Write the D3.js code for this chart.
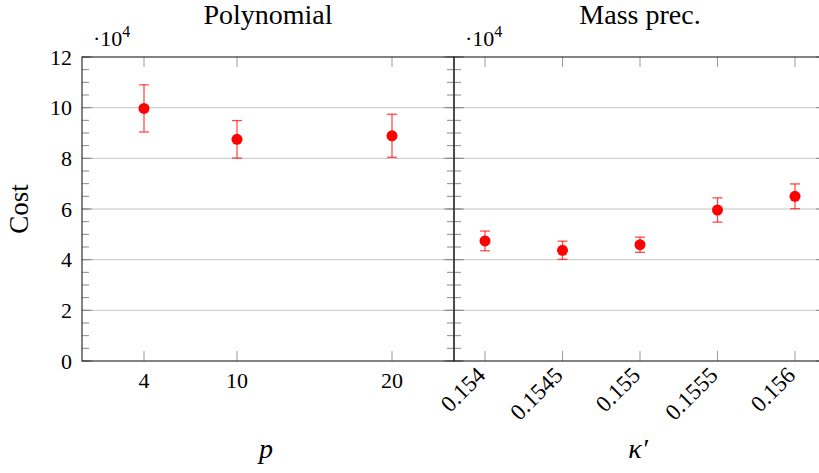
<!DOCTYPE html>
<html>
<head>
<meta charset="utf-8">
<script src="https://cdn.jsdelivr.net/npm/d3@7"></script>
<style>
  body { margin: 0; background: #fff; }
  svg { display: block; font-family: "Liberation Serif", "Times New Roman", serif; }
  text { font-family: "Liberation Serif", "Times New Roman", serif; }
</style>
</head>
<body>
<svg id="chart"></svg>
<script>
var width = 819;
var height = 473;

// data (cost values, axis shown in units of 10^4)
var polyP = [4, 10, 20];
var polyCost = [99700, 87500, 88900];
var polyErr = [9300, 7400, 8500];

var kappa = [0.154, 0.1545, 0.155, 0.1555, 0.156];
var kappaCost = [47400, 43700, 45900, 59600, 65000];
var kappaErr = [3900, 3600, 3000, 4800, 4900];

var yTicks = [0, 20000, 40000, 60000, 80000, 100000, 120000];
var kappaTickLabels = ['0.154', '0.1545', '0.155', '0.1555', '0.156'];

var plotTop = 57, plotBottom = 361;
var panelW = 372;
var leftX = 82;

var svg = d3.select('#chart')
    .attr('width', width)
    .attr('height', height);

var y = d3.scaleLinear()
    .domain([0, 120000])
    .range([plotBottom, plotTop]);

var minorTicks = d3.range(0, 120001, 5000);

var xPoly = d3.scaleLinear()
    .domain([0, 24])
    .range([leftX, leftX + panelW]);

var xKappa = d3.scaleLinear()
    .domain([0.1538, 0.1562])
    .range([leftX + panelW, leftX + 2 * panelW]);

function drawPanel(x, xs, ys, errs, tickVals) {
    var x0 = x.range()[0], x1 = x.range()[1];
    var g = svg.append('g');

    // horizontal grid
    g.selectAll('line.grid')
        .data(yTicks.slice(1, -1))
        .enter().append('line')
        .attr('x1', x0).attr('x2', x1)
        .attr('y1', function (d) { return y(d); })
        .attr('y2', function (d) { return y(d); })
        .attr('stroke', '#c4c4c4')
        .attr('stroke-width', 1);

    // minor y ticks, both sides
    [[x0, 7], [x1, -7]].forEach(function (s) {
        g.selectAll(null)
            .data(minorTicks)
            .enter().append('line')
            .attr('x1', s[0]).attr('x2', s[0] + s[1])
            .attr('y1', function (d) { return y(d); })
            .attr('y2', function (d) { return y(d); })
            .attr('stroke', '#8a8a8a')
            .attr('stroke-width', 1);
    });
    // major y ticks
    [[x0, 10], [x1, -10]].forEach(function (s) {
        g.selectAll(null)
            .data(yTicks)
            .enter().append('line')
            .attr('x1', s[0]).attr('x2', s[0] + s[1])
            .attr('y1', function (d) { return y(d); })
            .attr('y2', function (d) { return y(d); })
            .attr('stroke', '#8a8a8a')
            .attr('stroke-width', 1);
    });

    // x ticks top and bottom
    [[plotBottom, -10], [plotTop, 10]].forEach(function (s) {
        g.selectAll(null)
            .data(tickVals)
            .enter().append('line')
            .attr('x1', function (d) { return x(d); })
            .attr('x2', function (d) { return x(d); })
            .attr('y1', s[0]).attr('y2', s[0] + s[1])
            .attr('stroke', '#9a9a9a')
            .attr('stroke-width', 1);
    });

    // error bars
    var eb = g.selectAll('g.err')
        .data(xs.map(function (d, i) { return [d, ys[i], errs[i]]; }))
        .enter().append('g')
        .attr('stroke', 'red')
        .attr('stroke-opacity', 0.7)
        .attr('stroke-width', 1.3);
    eb.append('line')
        .attr('x1', function (d) { return x(d[0]); })
        .attr('x2', function (d) { return x(d[0]); })
        .attr('y1', function (d) { return y(d[1] - d[2]); })
        .attr('y2', function (d) { return y(d[1] + d[2]); });
    eb.append('line')
        .attr('x1', function (d) { return x(d[0]) - 5; })
        .attr('x2', function (d) { return x(d[0]) + 5; })
        .attr('y1', function (d) { return y(d[1] + d[2]); })
        .attr('y2', function (d) { return y(d[1] + d[2]); });
    eb.append('line')
        .attr('x1', function (d) { return x(d[0]) - 5; })
        .attr('x2', function (d) { return x(d[0]) + 5; })
        .attr('y1', function (d) { return y(d[1] - d[2]); })
        .attr('y2', function (d) { return y(d[1] - d[2]); });

    // markers
    g.selectAll('circle')
        .data(xs)
        .enter().append('circle')
        .attr('cx', function (d) { return x(d); })
        .attr('cy', function (d, i) { return y(ys[i]); })
        .attr('r', 5.5)
        .attr('fill', 'red');

    // frame
    g.append('rect')
        .attr('x', x0).attr('y', plotTop)
        .attr('width', x1 - x0).attr('height', plotBottom - plotTop)
        .attr('fill', 'none')
        .attr('stroke', '#1e1e1e')
        .attr('stroke-width', 1.1);

    // ·10^4 multiplier
    var m = svg.append('text')
        .attr('x', x0 + 11)
        .attr('y', 46)
        .attr('font-size', 22);
    m.append('tspan').text('\u00b710');
    m.append('tspan').attr('dy', -9).attr('font-size', 16).text('4');
}

drawPanel(xPoly, polyP, polyCost, polyErr, polyP);
drawPanel(xKappa, kappa, kappaCost, kappaErr, kappa);

// y tick labels (left panel only)
svg.append('g').selectAll('text')
    .data(yTicks)
    .enter().append('text')
    .attr('x', 72)
    .attr('y', function (d) { return y(d); })
    .attr('dy', '0.35em')
    .attr('text-anchor', 'end')
    .attr('font-size', 22)
    .text(function (d) { return d / 10000; });

// x tick labels, left
svg.append('g').selectAll('text')
    .data(polyP)
    .enter().append('text')
    .attr('x', function (d) { return xPoly(d); })
    .attr('y', 388)
    .attr('text-anchor', 'middle')
    .attr('font-size', 22)
    .text(function (d) { return d; });

// x tick labels, right (rotated)
svg.append('g').selectAll('text')
    .data(kappa)
    .enter().append('text')
    .attr('transform', function (d) {
        return 'translate(' + (xKappa(d) - 4) + ',' + 371 + ') rotate(-45)';
    })
    .attr('dy', '0.35em')
    .attr('text-anchor', 'end')
    .attr('font-size', 23)
    .text(function (d, i) { return kappaTickLabels[i]; });

// titles
svg.append('text')
    .attr('x', xPoly.range()[0] + panelW / 2)
    .attr('y', 24)
    .attr('text-anchor', 'middle')
    .attr('font-size', 28)
    .text('Polynomial');

svg.append('text')
    .attr('x', xKappa.range()[0] + panelW / 2)
    .attr('y', 24)
    .attr('text-anchor', 'middle')
    .attr('font-size', 28)
    .text('Mass prec.');

// axis labels
svg.append('text')
    .attr('transform', 'translate(28,' + ((plotTop + plotBottom) / 2) + ') rotate(-90)')
    .attr('text-anchor', 'middle')
    .attr('font-size', 27)
    .text('Cost');

svg.append('text')
    .attr('x', 266)
    .attr('y', 458)
    .attr('text-anchor', 'middle')
    .attr('font-size', 28)
    .attr('font-style', 'italic')
    .text('p');

svg.append('text')
    .attr('x', 638)
    .attr('y', 458)
    .attr('text-anchor', 'middle')
    .attr('font-size', 28)
    .attr('font-style', 'italic')
    .text('\u03ba\u2032');
</script>
</body>
</html>
